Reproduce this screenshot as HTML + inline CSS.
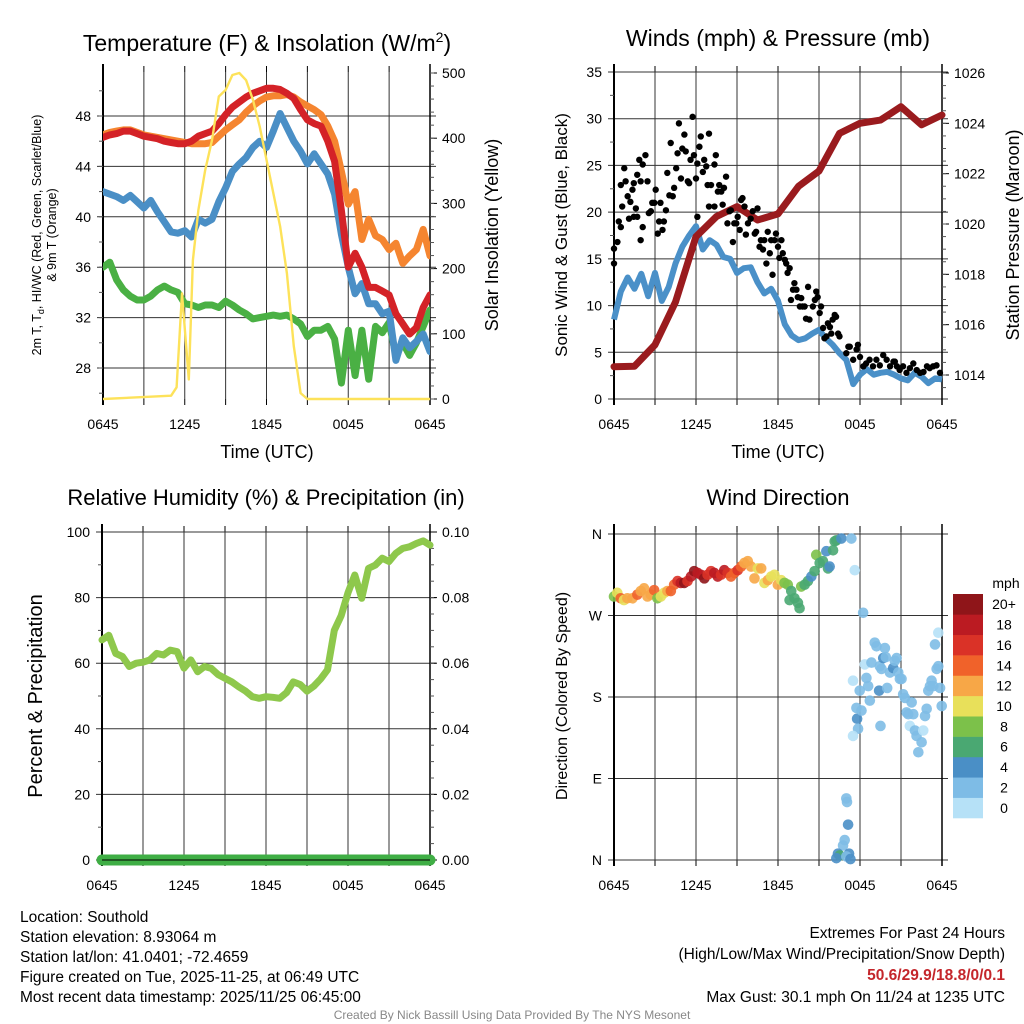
<!DOCTYPE html>
<html><head><meta charset="utf-8">
<style>
html,body{margin:0;padding:0;background:#fff;}
svg{display:block;font-family:"Liberation Sans",sans-serif;}
</style></head>
<body>
<svg id="fig" width="1024" height="1024" viewBox="0 0 1024 1024" xmlns="http://www.w3.org/2000/svg">
<rect width="1024" height="1024" fill="#fff"/>
<g id="layer"></g>
<text x="267" y="51" font-size="23" text-anchor="middle">Temperature (F) &amp; Insolation (W/m<tspan font-size="14" dy="-9">2</tspan><tspan dy="9">)</tspan></text>
<text x="778" y="46" font-size="23" text-anchor="middle">Winds (mph) &amp; Pressure (mb)</text>
<text x="266" y="505" font-size="22" text-anchor="middle">Relative Humidity (%) &amp; Precipitation (in)</text>
<text x="778" y="505" font-size="22" text-anchor="middle">Wind Direction</text>

<text x="267" y="458" font-size="18" text-anchor="middle">Time (UTC)</text>
<text x="778" y="458" font-size="18" text-anchor="middle">Time (UTC)</text>

<text font-size="12.5" text-anchor="middle" transform="translate(41,235) rotate(-90)">2m T, T<tspan font-size="9" dy="3">d</tspan><tspan dy="-3">, HI/WC (Red, Green, Scarlet/Blue)</tspan></text>
<text font-size="12.5" text-anchor="middle" transform="translate(56,235) rotate(-90)">&amp; 9m T (Orange)</text>
<text font-size="18" text-anchor="middle" transform="translate(498,235) rotate(-90)">Solar Insolation (Yellow)</text>
<text font-size="17" text-anchor="middle" transform="translate(567,235) rotate(-90)">Sonic Wind &amp; Gust (Blue, Black)</text>
<text font-size="18" text-anchor="middle" transform="translate(1019,235) rotate(-90)">Station Pressure (Maroon)</text>
<text font-size="20" text-anchor="middle" transform="translate(42,696) rotate(-90)">Percent &amp; Precipitation</text>
<text font-size="16" text-anchor="middle" transform="translate(567,696) rotate(-90)">Direction (Colored By Speed)</text>

<g font-size="15.5">
<text x="20" y="922">Location: Southold</text>
<text x="20" y="942">Station elevation: 8.93064 m</text>
<text x="20" y="962">Station lat/lon: 41.0401; -72.4659</text>
<text x="20" y="982">Figure created on Tue, 2025-11-25, at 06:49 UTC</text>
<text x="20" y="1002">Most recent data timestamp: 2025/11/25 06:45:00</text>
</g>
<g font-size="15.5" text-anchor="end">
<text x="1005" y="938">Extremes For Past 24 Hours</text>
<text x="1005" y="959">(High/Low/Max Wind/Precipitation/Snow Depth)</text>
<text x="1005" y="980" fill="#c4262b" font-weight="bold">50.6/29.9/18.8/0/0.1</text>
<text x="1005" y="1002">Max Gust: 30.1 mph On 11/24 at 1235 UTC</text>
</g>
<text x="512" y="1019" font-size="12" fill="#888" text-anchor="middle">Created By Nick Bassill Using Data Provided By The NYS Mesonet</text>
</svg>
<script>
// ---- data (hours since 0645 UTC, 0.5 h steps) ----
const halfHours = [0,0.5,1,1.5,2,2.5,3,3.5,4,4.5,5,5.5,6,6.5,7,7.5,8,8.5,9,9.5,10,10.5,11,11.5,12,12.5,13,13.5,14,14.5,15,15.5,16,16.5,17,17.5,18,18.5,19,19.5,20,20.5,21,21.5,22,22.5,23,23.5,24];
const xTickLabels = ["0645","1245","1845","0045","0645"];
const xTickHours = [0,6,12,18,24];
const tempRed = [46.3,46.5,46.6,46.8,46.8,46.6,46.4,46.3,46.2,46.0,45.9,45.8,45.8,46.0,46.4,46.6,46.8,47.4,48.1,48.7,49.1,49.5,49.8,50.0,50.2,50.2,50.1,49.8,49.4,48.5,47.7,47.4,47.2,46.0,44.4,40.5,36.0,37.1,36.0,34.4,34.4,34.1,33.8,32.3,31.5,30.7,31.2,32.8,33.8];
const tempOrange = [46.5,46.7,46.8,46.9,46.9,46.7,46.5,46.4,46.3,46.2,46.1,46.0,45.9,45.8,45.8,45.8,45.9,46.4,46.9,47.3,47.7,48.3,48.8,49.2,49.5,49.6,49.6,49.7,49.5,49.1,48.8,48.5,48.1,47.2,46.0,43.6,41.0,42.0,38.2,39.8,38.5,38.2,37.4,37.9,36.3,36.9,37.4,39.0,36.9];
const windChill = [42.0,41.8,41.6,41.3,41.7,41.2,40.7,41.3,40.4,39.6,38.8,38.7,38.9,38.4,39.8,39.5,39.8,41.2,42.3,43.6,44.2,44.7,45.5,46.0,45.5,46.8,48.2,47.1,46.0,45.2,44.2,45.0,44.2,43.4,41.8,38.6,36.0,33.9,34.7,33.1,33.1,32.3,32.5,28.6,30.4,29.6,30.1,30.7,29.3];
const dewPoint = [36.0,36.4,35.0,34.2,33.7,33.4,33.4,33.7,34.2,34.5,34.2,34.0,33.1,33.0,32.8,33.0,33.0,32.8,33.3,33.0,32.6,32.3,31.9,32.0,32.1,32.2,32.1,32.2,31.9,31.5,30.5,31.0,31.0,31.3,30.3,26.8,31.0,27.4,31.0,27.1,31.3,30.8,31.6,29.0,30.0,29.0,30.0,31.3,32.6];
const solarHours = [0,5,5.4,5.8,6.3,6.6,7,7.5,8,8.5,9,9.5,10,10.5,11,11.5,12,12.5,13,13.5,14,14.5,15,24];
const solarVals = [0,5,18,162,30,213,290,351,397,464,474,497,500,489,459,418,367,316,265,193,81,9,0,0];
const tempTicks = [28,32,36,40,44,48];
const solarTicks = [0,100,200,300,400,500];

const sonicWind = [8.5,11.5,13.0,11.8,13.4,11.0,13.5,10.5,12.0,14.5,16.3,17.5,18.5,16.0,17.0,16.5,15.2,15.0,13.5,14.0,14.1,12.5,11.3,11.8,10.5,8.0,6.8,6.3,6.5,7.0,7.4,6.5,5.8,4.9,4.2,1.6,2.6,3.2,2.6,2.8,2.9,2.6,2.2,2.0,2.8,2.4,1.7,2.2,2.1];
const pressureHours = [0,1.5,3,4.5,6,7.5,9,10.5,12,13.5,15,16.5,18,19.5,21,22.5,24];
const pressureVals = [1014.33,1014.35,1015.2,1016.9,1019.5,1020.3,1020.69,1020.16,1020.4,1021.5,1022.1,1023.6,1024.0,1024.13,1024.66,1023.94,1024.33];
const gustHours = [0,0,0.25,0.35,0.5,0.5,0.6,0.75,0.85,1.0,1.1,1.2,1.35,1.45,1.45,1.6,1.7,1.7,1.85,1.95,1.95,2.1,2.1,2.3,2.45,2.55,2.7,2.8,2.95,3.05,3.2,3.3,3.4,3.55,3.65,3.8,3.9,4.05,4.15,4.3,4.4,4.55,4.65,4.75,4.9,5.0,5.15,5.25,5.4,5.5,5.6,5.75,5.85,6.0,6.1,6.1,6.25,6.35,6.5,6.6,6.75,6.85,6.95,6.95,7.1,7.35,7.35,7.45,7.6,7.7,7.85,7.95,8.05,8.2,8.3,8.45,8.55,8.7,8.8,8.95,9.05,9.2,9.3,9.4,9.55,9.65,9.8,10.0,10.15,10.3,10.4,10.5,10.65,10.75,10.9,11.0,11.15,11.25,11.4,11.5,11.6,11.75,11.85,12.0,12.1,12.25,12.35,12.5,12.6,12.7,12.85,12.95,13.1,13.2,13.35,13.45,13.6,13.7,13.8,13.95,14.05,14.2,14.3,14.55,14.7,14.8,14.9,15.05,15.15,15.3,15.4,15.55,15.65,15.8,15.9,16.0,16.15,16.25,16.4,16.5,17.0,17.15,17.25,17.5,17.75,17.85,18.0,18.25,18.45,18.7,18.95,19.2,19.45,19.7,19.95,20.2,20.45,20.55,20.7,20.9,21.15,21.4,21.65,21.9,22.15,22.4,22.65,22.9,23.1,23.35,23.6,23.85];
const gustVals = [14.5,16.1,16.8,19.0,18.4,22.9,20.6,24.7,23.3,21.7,19.3,21.1,22.4,19.5,23.1,20.4,19.5,24.0,25.6,23.3,17.0,18.4,25.1,26.1,23.3,19.9,20.1,21.0,21.0,22.4,17.7,19.0,21.0,18.1,19.0,20.2,24.2,21.8,27.4,21.7,22.6,24.7,26.3,29.5,23.6,26.8,28.3,26.5,23.3,23.1,25.6,30.2,26.1,23.6,25.2,19.5,27.0,28.1,24.3,25.6,24.9,22.9,28.4,20.6,22.9,25.1,20.6,26.1,22.2,22.9,22.2,20.8,22.6,23.8,18.8,20.1,20.2,16.8,18.8,18.8,19.5,18.1,21.3,21.5,20.6,17.6,18.8,19.3,20.1,17.7,17.9,20.4,16.3,17.0,16.0,17.0,14.5,17.9,15.6,17.0,13.3,17.0,17.7,16.3,15.1,17.0,15.6,14.9,14.5,13.5,14.0,10.6,11.7,12.4,11.7,10.9,9.9,10.8,9.9,9.9,8.6,12.0,8.5,9.9,10.6,11.5,10.9,9.2,9.9,7.6,6.5,6.7,8.1,7.7,7.0,8.5,9.0,8.8,7.0,6.7,4.9,5.6,5.6,4.2,5.3,5.8,4.5,3.5,3.8,4.2,3.5,4.2,3.6,4.7,4.2,3.5,4.0,4.0,3.5,3.1,3.5,2.8,3.3,3.8,3.1,2.8,2.9,3.5,3.3,3.5,3.6,2.8];
const windTicks = [0,5,10,15,20,25,30,35];
const pressureTicks = [1014,1016,1018,1020,1022,1024,1026];

const rhVals = [67.1,68.5,63,62,59,60,60.3,61,63,62.5,64,63.5,58.5,61,57.4,59,58.4,56.5,55.4,54.3,52.8,51.5,49.8,49.3,49.8,49.6,49.3,51,54.3,53.5,51.5,53,55.2,58,70,74.5,81.5,86.9,79.8,88.9,89.9,92,91,93.5,95,95.5,96.5,97.3,96];
const precipHours = [0,6,12,18,24];
const precipVals = [0,0,0,0,0];
const rhTicks = [0,20,40,60,80,100];
const precipTicks = ["0.00","0.02","0.04","0.06","0.08","0.10"];

const dirHours = [0,0.24,0.49,0.73,0.98,1.35,1.71,1.96,2.2,2.45,2.69,2.94,3.18,3.43,3.67,3.91,4.16,4.4,4.65,4.89,5.14,5.38,5.63,5.87,6.12,6.36,6.61,6.85,7.1,7.34,7.59,7.83,8.07,8.32,8.56,8.81,9.05,9.3,9.54,9.79,10.03,10.28,10.52,10.77,11.01,11.26,11.5,11.74,11.99,12.23,12.48,12.72,12.85,12.97,13.21,13.46,13.58,13.7,13.95,14.19,14.44,14.68,14.8,15.05,15.29,15.54,15.66,15.78,16.03,16.15,16.27,16.64,17.37,17.62,18.23,
17.49,17.74,17.79,17.86,17.49,17.98,18.11,18.35,18.47,18.6,18.72,18.84,19.08,19.21,19.4,19.45,19.57,19.7,19.82,19.89,19.99,19.5,20.19,20.43,20.55,20.68,20.8,20.92,21.04,21.16,21.29,21.41,21.53,21.65,21.78,21.9,22.02,22.14,22.27,22.51,22.63,22.76,22.88,23.0,23.12,23.24,23.37,23.49,23.61,23.73,23.73,23.86,23.98,
17.0,17.05,17.13,16.88,16.76,17.2,16.39,16.52,16.27,17.0,17.3];
const dirVals = [291,295,289,287,289,289,293,297,300,291,293,298,289,291,295,297,297,304,308,306,306,308,313,319,317,315,311,315,319,317,313,315,320,317,313,317,320,324,328,330,324,311,322,322,306,309,313,315,304,309,306,304,287,297,289,284,278,302,304,308,313,319,337,328,330,341,322,324,342,352,353,355,355,320,273,
198,168,156,145,137,187,165,216,201,192,176,218,240,236,187,214,211,223,234,224,190,148,207,212,220,223,207,200,200,183,179,163,161,148,174,161,143,137,119,130,143,159,167,187,192,198,192,238,211,251,214,190,170,
68,64,39,22,16,7,7,5,2,4,1];
const dirSpeeds = [8,10,14,10,12,12,14,12,12,12,12,14,8,10,10,12,14,14,16,18,20,16,18,20,18,18,20,16,16,18,18,16,18,16,14,14,16,14,12,12,12,12,10,12,10,12,10,10,12,10,8,8,6,6,6,6,6,8,6,6,4,6,8,6,6,4,6,4,6,6,6,4,2,1,2,
1,2,4,2,1,2,2,1,2,2,2,2,2,2,4,2,2,4,2,2,2,2,2,4,2,2,2,2,2,2,2,2,2,1,2,2,2,2,2,2,1,2,2,2,2,2,2,2,2,1,2,2,3,
2,2,4,2,2,4,4,6,4,2,4];
const speedColors = ["#b6e1f7","#7ebce6","#4a8fc6","#4aa872","#7cc14a","#e8e05a","#f7a747","#f0622a","#da3227","#bb1b22","#8f1519"];
const speedLabels = ["0","2","4","6","8","10","12","14","16","18","20+"];
const dirTicks = [0,90,180,270,360];
const dirLabels = ["N","E","S","W","N"];

// ---- drawing ----
const NS = "http://www.w3.org/2000/svg";
const layer = document.getElementById("layer");
function mk(tag, attrs, parent) {
  const e = document.createElementNS(NS, tag);
  for (const k in attrs) e.setAttribute(k, attrs[k]);
  (parent || layer).appendChild(e);
  return e;
}
function scale(d0, d1, r0, r1) { return v => r0 + (v - d0) / (d1 - d0) * (r1 - r0); }
function pathD(xs, ys, sx, sy) { return xs.map((v, i) => (i ? "L" : "M") + sx(v).toFixed(1) + "," + sy(ys[i]).toFixed(1)).join(""); }

const P1 = {x0:103,x1:430,y0:72,y1:399};
const P2 = {x0:614,x1:942,y0:72,y1:399};
const P3 = {x0:102,x1:430,y0:532,y1:860};
const P4 = {x0:614,x1:942,y0:532,y1:860};

function frame(P, name, yTicksL, syL) {
  const g = mk("g", {});
  
  
  const sx = scale(0, 24, P.x0, P.x1);
  for (let h = 0; h <= 24; h += 3) {
    const x = sx(h);
    mk("line", {x1:x, x2:x, y1:P.y0, y2:P.y1, stroke:"#333", "stroke-width":1}, g);
    mk("line", {x1:x, x2:x, y1:P.y0-6, y2:P.y0, stroke:"#000", "stroke-width":1}, g);
    mk("line", {x1:x, x2:x, y1:P.y1, y2:P.y1+6, stroke:"#000", "stroke-width":1}, g);
  }
  yTicksL.forEach(v => {
    const y = syL(v);
    mk("line", {x1:P.x0-6, x2:P.x1+6, y1:y, y2:y, stroke:"#333", "stroke-width":1}, g);
  });
  mk("line", {x1:P.x0, x2:P.x0, y1:P.y0-8, y2:P.y1+6, stroke:"#000", "stroke-width":2}, g);
  mk("line", {x1:P.x1, x2:P.x1, y1:P.y0-8, y2:P.y1+6, stroke:"#000", "stroke-width":1.5}, g);
  xTickHours.forEach((h, i) => {
    const t = mk("text", {x:sx(h), y:P.y1+30, "font-size":14, "text-anchor":"middle"}, g);
    
    
    t.textContent = xTickLabels[i];
  });
  return sx;
}
function leftLabels(P, name, ticks, labels, sy, minor) {
  ticks.forEach((v, i) => {
    const t = mk("text", {x:P.x0-12, y:sy(v)+5, "font-size":14, "text-anchor":"end"});
    
    
    t.textContent = labels ? labels[i] : v;
  });
  minor.forEach(v => mk("line", {x1:P.x0-4, x2:P.x0, y1:sy(v), y2:sy(v), stroke:"#555"}));
}
function rightLabels(P, name, ticks, labels, sy, minor) {
  ticks.forEach((v, i) => {
    mk("line", {x1:P.x1, x2:P.x1+7, y1:sy(v), y2:sy(v), stroke:"#000"});
    const t = mk("text", {x:P.x1+12, y:sy(v)+5, "font-size":14});
    
    
    t.textContent = labels ? labels[i] : v;
  });
  minor.forEach(v => mk("line", {x1:P.x1, x2:P.x1+4, y1:sy(v), y2:sy(v), stroke:"#555"}));
}
function range(a, b, s) { const r = []; for (let v = a; v <= b + 1e-9; v += s) r.push(+v.toFixed(4)); return r; }

// Panel 1
const syT = scale(28, 48, 368, 116);
const syS = scale(0, 500, 399, 73);
const sx1 = frame(P1, "temperature", tempTicks, syT);
leftLabels(P1, "temperature", tempTicks, null, syT, range(26, 50, 2));
rightLabels(P1, "solar", solarTicks, null, syS, range(0, 500, 20));
const clip1 = mk("clipPath", {id:"c1"}); mk("rect", {x:P1.x0, y:P1.y0-4, width:P1.x1-P1.x0, height:P1.y1-P1.y0+6}, clip1);
[[dewPoint,"#4ab044","dewpoint-line"],[windChill,"#4a8fc6","wind-chill-line"],[tempOrange,"#f58530","temp-9m-line"],[tempRed,"#d42227","temp-2m-line"]].forEach(s => {
  const p = mk("path", {d:pathD(halfHours, s[0], sx1, syT), fill:"none", stroke:s[1], "stroke-width":7, "stroke-linejoin":"round", "stroke-linecap":"round", "clip-path":"url(#c1)"});
  
  
});
const sol = mk("path", {d:pathD(solarHours, solarVals, sx1, syS), fill:"none", stroke:"#fde25a", "stroke-width":2.4, "stroke-linejoin":"round"});



// Panel 2
const syW = scale(0, 35, 399, 72);
const syP = scale(1014, 1026, 375, 73);
const sx2 = frame(P2, "wind", windTicks, syW);
leftLabels(P2, "wind", windTicks, null, syW, range(2.5, 32.5, 5));
rightLabels(P2, "pressure", pressureTicks, null, syP, range(1013.5, 1026, 0.5));
const sw = mk("path", {d:pathD(halfHours, sonicWind, sx2, syW), fill:"none", stroke:"#4a90c8", "stroke-width":6, "stroke-linejoin":"round"});


const pr = mk("path", {d:pathD(pressureHours, pressureVals, sx2, syP), fill:"none", stroke:"#9a1b1e", "stroke-width":7, "stroke-linejoin":"round", "stroke-linecap":"round"});


gustHours.forEach((h, i) => {
  const c = mk("circle", {cx:sx2(h), cy:syW(gustVals[i]), r:3.2, fill:"#000"});
  
  
});

// Panel 3
const syR = scale(0, 100, 860, 532);
const sx3 = frame(P3, "humidity", rhTicks, syR);
leftLabels(P3, "humidity", rhTicks, null, syR, range(10, 90, 20));
rightLabels(P3, "precip", rhTicks, precipTicks, syR, range(5, 95, 5));
const rh = mk("path", {d:pathD(halfHours, rhVals, sx3, syR), fill:"none", stroke:"#8ec84c", "stroke-width":7, "stroke-linejoin":"round", "stroke-linecap":"round"});


const syPr = scale(0, 0.1, 860, 532);
const pc = mk("path", {d:pathD(precipHours, precipVals, sx3, syPr), fill:"none", stroke:"#3fae45", "stroke-width":11, "stroke-linecap":"round"});


mk("line", {x1:P3.x0, x2:P3.x1, y1:860, y2:860, stroke:"#000", "stroke-width":1});

// Panel 4
const syD = scale(0, 360, 860, 534);
const sx4 = frame(P4, "direction", dirTicks, syD);
leftLabels(P4, "direction", dirTicks, dirLabels, syD, []);
dirHours.forEach((h, i) => {
  const bin = Math.min(10, Math.floor(dirSpeeds[i] / 2));
  const c = mk("circle", {cx:sx4(h), cy:syD(dirVals[i]), r:5.3, fill:speedColors[bin], "fill-opacity":0.9});
  
  
});
// colorbar
const cb = mk("g", {});


const boxH = (818 - 594) / speedColors.length;
speedColors.forEach((col, i) => {
  const y = 818 - (i + 1) * boxH;
  mk("rect", {x:953, y:y, width:30, height:boxH + 0.3, fill:col}, cb);
  const t = mk("text", {x:1004, y:y + boxH / 2 + 5, "font-size":14, "text-anchor":"middle"}, cb);
  
  
  t.textContent = speedLabels[i];
});
const u = mk("text", {x:1006, y:588, "font-size":14, "text-anchor":"middle"}, cb);


u.textContent = "mph";
</script>
</body></html>
